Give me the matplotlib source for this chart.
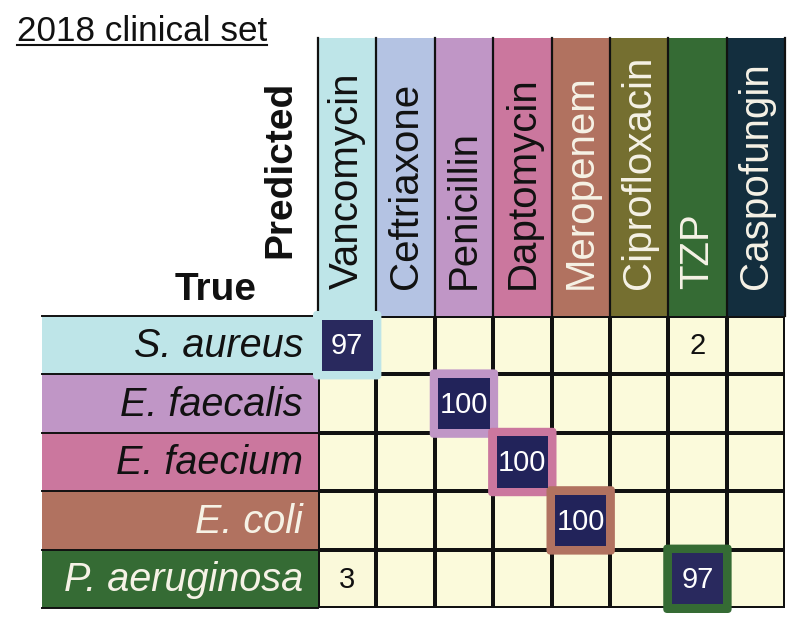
import matplotlib
matplotlib.use('Agg')
import matplotlib.pyplot as plt
import numpy as np
from matplotlib.colors import LinearSegmentedColormap, Normalize
from matplotlib.patches import Rectangle, FancyBboxPatch
from matplotlib.lines import Line2D

# ---- data ----
predicted = ['Vancomycin', 'Ceftriaxone', 'Penicillin', 'Daptomycin',
             'Meropenem', 'Ciprofloxacin', 'TZP', 'Caspofungin']
true_labels = ['S. aureus', 'E. faecalis', 'E. faecium', 'E. coli', 'P. aeruginosa']
row_s_aureus = [97, 0, 0, 0, 0, 0, 2, 0]
row_e_faecalis = [0, 0, 100, 0, 0, 0, 0, 0]
row_e_faecium = [0, 0, 0, 100, 0, 0, 0, 0]
row_e_coli = [0, 0, 0, 0, 100, 0, 0, 0]
row_p_aeruginosa = [3, 0, 0, 0, 0, 0, 97, 0]
correct_col = [0, 2, 3, 4, 6]

pred_colors = ['#BEE5E8', '#B4C3E3', '#C096C6', '#CB779E',
               '#B17260', '#756F30', '#356B34', '#132E3E']
pred_text_colors = ['#111111'] * 4 + ['#F6F2E6'] * 4
true_colors = ['#BEE5E8', '#C096C6', '#CB779E', '#B17260', '#356B34']
true_text_colors = ['#111111', '#111111', '#111111', '#F6F2E6', '#F6F2E6']

LIGHT = dict(family=['Liberation Sans', 'DejaVu Sans'], fontweight='normal')
BOLD = dict(family=['Liberation Sans', 'DejaVu Sans'], fontweight='bold')

values = np.array([row_s_aureus, row_e_faecalis, row_e_faecium, row_e_coli, row_p_aeruginosa])

W, H = 800, 631
fig = plt.figure(figsize=(W / 100, H / 100), dpi=100)
gx0, gx1, gy0, gy1 = 318, 785, 316, 608
ax = fig.add_axes([gx0 / W, 1 - gy1 / H, (gx1 - gx0) / W, (gy1 - gy0) / H])
nr, nc = values.shape
ax.set_xlim(0, nc)
ax.set_ylim(nr, 0)
ax.axis('off')
cw = (gx1 - gx0) / nc
ch = (gy1 - gy0) / nr
head_h = (gy0 - 38) / ch
lab_w = (gx0 - 42) / cw

cmap = LinearSegmentedColormap.from_list(
    'c', [(0, '#FBFADB'), (0.1, '#F9F8D6'), (1, '#22235A')])
norm = Normalize(0, 100)
ax.pcolormesh(np.arange(nc + 1), np.arange(nr + 1), values, cmap=cmap, norm=norm,
              edgecolors='#111111', linewidth=1.6, zorder=1)

# column headers
for j, name in enumerate(predicted):
    ax.add_patch(Rectangle((j, -head_h), 1, head_h, facecolor=pred_colors[j],
                           edgecolor='none', clip_on=False, zorder=0))
    ax.text(j + 0.5, -(gy0 - 289) / ch, name, rotation=90, ha='center', va='bottom',
            fontsize=29, color=pred_text_colors[j], clip_on=False, zorder=2, **LIGHT)
for j in range(nc + 1):
    ax.plot([j, j], [-head_h, 0], color='#111111', lw=1.6, clip_on=False, zorder=2)

# row labels
for i, name in enumerate(true_labels):
    ax.add_patch(Rectangle((-lab_w, i), lab_w, 1, facecolor=true_colors[i],
                           edgecolor='none', clip_on=False, zorder=0))
    ax.text(-(gx0 - 303) / cw, i + 0.52, name, ha='right', va='center', style='italic',
            fontsize=28.5, color=true_text_colors[i], clip_on=False, zorder=2, **LIGHT)
for i in range(nr + 1):
    ax.plot([-lab_w, 0], [i, i], color='#111111', lw=1.4, clip_on=False, zorder=2)

# highlighted (correct) cells
po = 5 / cw
pi = 3.5 / cw
for i, j in enumerate(correct_col):
    ax.add_patch(FancyBboxPatch((j - po, i - po), 1 + 2 * po, 1 + 2 * po,
                                boxstyle='round,pad=0,rounding_size=0.07',
                                facecolor=true_colors[i], edgecolor='none',
                                clip_on=False, zorder=3))
    ax.add_patch(Rectangle((j + pi, i + pi), 1 - 2 * pi, 1 - 2 * pi,
                           facecolor=cmap(norm(values[i, j])), edgecolor='none',
                           clip_on=False, zorder=4))

# cell values
for i in range(nr):
    for j in range(nc):
        v = values[i, j]
        if v > 0:
            ax.text(j + 0.5, i + 0.52, str(v), ha='center', va='center', fontsize=21,
                    color='white' if v > 50 else '#111111', zorder=5,
                    family=['Liberation Sans', 'DejaVu Sans'])

# titles
t = fig.text(17 / W, 1 - 41 / H, '2018 clinical set', fontsize=25.3, ha='left',
             va='baseline', color='#111111', **LIGHT)
fig.text(257 / W, 1 - 300 / H, 'True', fontsize=28, ha='right', va='baseline',
         color='#111111', **BOLD)
fig.text(298 / W, 1 - 258 / H, 'Predicted', fontsize=28, rotation=90, ha='right',
         va='bottom', color='#111111', **BOLD)

fig.canvas.draw()
bb = t.get_window_extent()
yl = (H - 45) / H
fig.add_artist(Line2D([bb.x0 / W, bb.x1 / W], [yl, yl], color='#111111', lw=1.5,
                      transform=fig.transFigure))

fig.savefig('out.png', dpi=100)
